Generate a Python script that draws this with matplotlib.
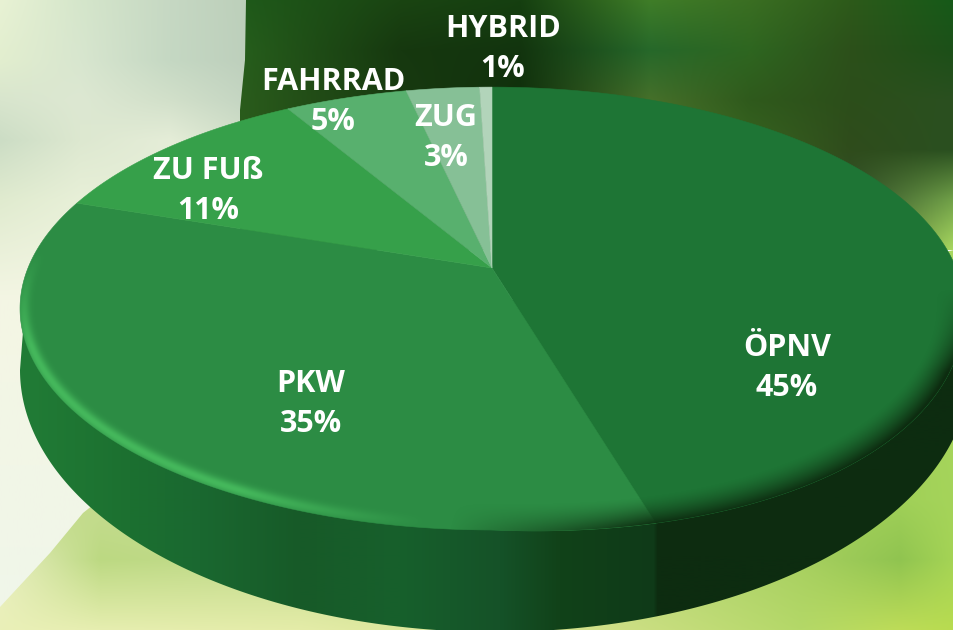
import numpy as np
import matplotlib
matplotlib.use("Agg")
import matplotlib.pyplot as plt
from matplotlib.colors import to_rgb
from matplotlib.patches import Polygon

names = ["ÖPNV", "PKW", "ZU FUß", "FAHRRAD", "ZUG", "HYBRID"]
pct_labels = ["45%", "35%", "11%", "5%", "3%", "1%"]
shares = [45.3, 34.9, 11.3, 5.0, 3.0, 0.5]
slice_colors = ["#1e7535", "#2c8c44", "#36a04a", "#58b06e", "#86c096", "#b2d4ba"]
name_pos = [(787, 348), (311, 384), (208, 171), (333, 82), (446, 118), (503, 29)]
pct_pos = [(787, 388), (311, 424), (208, 211), (333, 122), (446, 158), (503, 69)]

# backdrop colours
light_x = [0, 80, 170, 250]
light_y = [0, 60, 100, 140, 200, 300, 630]
light_c = [["#e8f2d4", "#d5e6cb", "#c6d8c3", "#bccfba"],
           ["#e2eecf", "#d8e6cf", "#c5d8c3", "#bdcfbc"],
           ["#d8e5cd", "#dde8d2", "#d2e0ca", "#c4d5c2"],
           ["#ccddc5", "#dde8d0", "#e5edd8", "#d0dfc8"],
           ["#e0ebcf", "#e8f0d8", "#e6eed8", "#e0e8d0"],
           ["#f4f6e4", "#f4f6e4", "#f0f4e0", "#f0f4e0"],
           ["#f0f6ea", "#f0f6ea", "#f0f6ea", "#f0f6ea"]]
dark_x = [240, 400, 520, 650, 750, 850, 954]
dark_y = [0, 50, 100, 150, 200, 250]
dark_c = [["#1f5a1a", "#1a4412", "#153f10", "#3f7d28", "#3a6e22", "#2d5a1a", "#165a18"],
          ["#265e1c", "#16380f", "#12340e", "#26682a", "#2e6620", "#2c501a", "#1c5018"],
          ["#2a5c1c", "#183a10", "#10300c", "#46702a", "#2f5a1c", "#2c4e1a", "#2a5020"],
          ["#2a5c1c", "#183a10", "#10300c", "#48782a", "#386420", "#2f4c1c", "#2a5020"],
          ["#2a5c1c", "#183a10", "#10300c", "#48782a", "#386420", "#33502a", "#70a048"],
          ["#2a5c1c", "#183a10", "#10300c", "#48782a", "#386420", "#4a6a30", "#a8d860"]]
ground_x = [0, 100, 300, 600, 800, 900, 954]
ground_y = [250, 500, 560, 630]
ground_c = [["#b9d87c", "#c5dc90", "#c5dc90", "#a8d060", "#a0d058", "#a0d058", "#a8d860"],
            ["#b9d87c", "#c5dc90", "#c5dc90", "#a8d060", "#a0d058", "#a0d058", "#a5d45a"],
            ["#e8eec0", "#bcd982", "#c5dc90", "#bcd980", "#a8d060", "#90c450", "#a5d455"],
            ["#eaf0b8", "#e6eeb0", "#e4eca8", "#d0e088", "#b4d868", "#bddc58", "#b8dc50"]]
side_x = [20, 130, 200, 300, 400, 500, 560, 654, 658, 970]
side_c = ["#217c36", "#1c7030", "#1a6830", "#175a28", "#17602c", "#155228", "#114219", "#0f3a18", "#0d2c10", "#0d2c10"]


def grid_image(xs, ys, rows):
    # blow a small colour grid up to one pixel steps
    rgb = np.array([[to_rgb(c) for c in row] for row in rows])
    px = np.arange(xs[0], xs[-1] + 1)
    py = np.arange(ys[0], ys[-1] + 1)
    img = np.zeros((len(py), len(px), 3))
    for ch in range(3):
        tmp = np.array([np.interp(px, xs, rgb[j, :, ch]) for j in range(len(ys))])
        for i in range(len(px)):
            img[:, i, ch] = np.interp(py, ys, tmp[:, i])
    return img


# pie top as a circle seen in perspective, apex is not the ellipse centre
apex_x, apex_y = 492, 268
persp = 0.183
scale_x, scale_y = 464, 214
ell_x, ell_y, ell_a, ell_b = 491, 308, 472, 221.5
sag = 25  # lower right of the disc hangs a little lower


def top_face(theta):
    u = np.sin(theta)
    v = np.cos(theta)
    x = apex_x + scale_x * u / (1 + persp * v)
    y = apex_y - scale_y * v / (1 + persp * v)
    return x, y + sag * np.maximum(u, 0) * np.maximum(-v, 0)


fig = plt.figure(figsize=(9.54, 6.30), dpi=100)
ax = fig.add_axes([0, 0, 1, 1])

ax.imshow(grid_image(light_x, light_y, light_c), extent=(0, 250, 630, 0), aspect="auto", zorder=1)

curve_y = np.array([612, 607, 553, 513, 420, 250])
curve_x = np.array([0, 0, 50, 83, 200, 954])
ground_poly = Polygon(np.column_stack([np.r_[curve_x, 954, 0], np.r_[curve_y, 630, 630]]), transform=ax.transData, fc="none", ec="none")
ax.add_patch(ground_poly)
im = ax.imshow(grid_image(ground_x, ground_y, ground_c), extent=(0, 954, 630, 250), aspect="auto", zorder=2)
im.set_clip_path(ground_poly)

tree_poly = Polygon([(246, 0), (245, 60), (239, 120), (239, 250), (954, 250), (954, 0)], transform=ax.transData, fc="none", ec="none")
ax.add_patch(tree_poly)
im = ax.imshow(grid_image(dark_x, dark_y, dark_c), extent=(240, 954, 250, 0), aspect="auto", zorder=3)
im.set_clip_path(tree_poly)

# side wall: lower arc of the bottom ellipse, then over the top face
t_low = np.radians(np.linspace(90, 270, 361))
t_top = np.radians(np.linspace(270, 450, 361))
tx, ty = top_face(t_top)
wall = np.column_stack([np.r_[495 + 475 * np.sin(t_low), tx], np.r_[370 - 262 * np.cos(t_low), ty]])
wall_poly = Polygon(wall, transform=ax.transData, fc="none", ec="none")
ax.add_patch(wall_poly)
im = ax.imshow(grid_image(side_x, [0, 1], [side_c, side_c]), extent=(20, 970, 640, 300), aspect="auto", zorder=4)
im.set_clip_path(wall_poly)

# slices, clockwise from 12 o'clock
start = 0
for share, col in zip(shares, slice_colors):
    end = start + share
    th = np.radians(np.linspace(start, end, 200) * 3.6)
    x, y = top_face(th)
    ax.fill(np.r_[apex_x, x], np.r_[apex_y, y], color=col, lw=0.4, zorder=5)
    start = end

all_t = np.radians(np.linspace(0, 360, 721))
fx, fy = top_face(all_t)
face = Polygon(np.column_stack([fx, fy]), transform=ax.transData, fc="none", ec="none")
ax.add_patch(face)

# rim light on the left and soft shadow on the lower right
gx, gy = np.meshgrid(np.arange(0, 954) + 0.5, np.arange(0, 630) + 0.5)
dx = (gx - ell_x) / ell_a
dy = (gy - ell_y) / ell_b
dy = dy - sag * np.maximum(dx, 0) * np.maximum(dy, 0) / ell_b
r = np.sqrt(dx**2 + dy**2)
grad = np.sqrt((dx / ell_a)**2 + (dy / ell_b)**2) / r
dist = (1 - r) / grad
phi = np.degrees(np.arctan2(dx, -dy)) % 360

glow_w = np.clip((phi - 188) / 25, 0, 1) * np.clip((285 - phi) / 25, 0, 1)
glow = np.zeros((630, 954, 4))
glow[..., :3] = to_rgb("#45b85c")
glow[..., 3] = np.exp(-((dist - 5) / 6)**2) * glow_w
im = ax.imshow(glow, extent=(0, 954, 630, 0), aspect="auto", zorder=6)
im.set_clip_path(face)

shade_w = np.clip((phi - 85) / 20, 0, 1) * np.clip((185 - phi) / 25, 0, 1)
shade = np.zeros((630, 954, 4))
shade[..., :3] = to_rgb("#0d2c10")
shade[..., 3] = np.clip(1 - dist / 28, 0, 1)**1.5 * shade_w
im = ax.imshow(shade, extent=(0, 954, 630, 0), aspect="auto", zorder=6)
im.set_clip_path(face)

for name, pct, p1, p2 in zip(names, pct_labels, name_pos, pct_pos):
    ax.text(p1[0], p1[1], name, color="white", fontsize=22, fontweight="bold", family="Open Sans", ha="center", va="center", zorder=8)
    ax.text(p2[0], p2[1], pct, color="white", fontsize=22, fontweight="bold", family="Open Sans", ha="center", va="center", zorder=8)

ax.set_xlim(0, 954)
ax.set_ylim(630, 0)
ax.axis("off")
fig.savefig("out.png", dpi=100)
